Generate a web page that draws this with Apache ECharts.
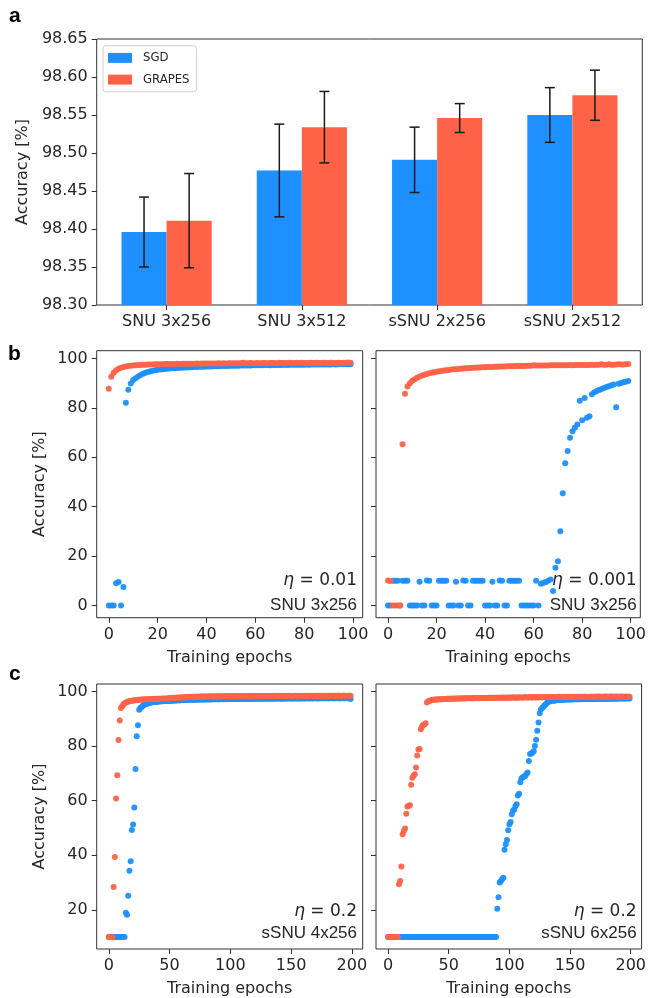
<!DOCTYPE html>
<html>
<head>
<meta charset="utf-8">
<script src="https://cdn.jsdelivr.net/npm/echarts@6/dist/echarts.min.js"></script>
<style>
  html, body { margin: 0; padding: 0; background: #fff; }
  #chart { width: 649px; height: 998px; }
</style>
</head>
<body>
<div id="chart"></div>
<script>
// ---------- panel a: final test accuracy (mean ± std) ----------
const categories = ['SNU 3x256', 'SNU 3x512', 'sSNU 2x256', 'sSNU 2x512'];
const sgdMean    = [98.396, 98.477, 98.491, 98.550];
const sgdStd     = [0.046, 0.061, 0.043, 0.036];
const grapesMean = [98.411, 98.534, 98.546, 98.576];
const grapesStd  = [0.062, 0.047, 0.019, 0.033];
const barTicks   = [98.30, 98.35, 98.40, 98.45, 98.50, 98.55, 98.60, 98.65];

// ---------- panels b, c: tick values ----------
const epochTicks100 = [0, 20, 40, 60, 80, 100];
const epochTicks200 = [0, 50, 100, 150, 200];
const accTicksB = [0, 20, 40, 60, 80, 100];
const accTicksC = [20, 40, 60, 80, 100];

// ---------- panel b, left: SNU 3x256, eta = 0.01 (epochs 0..99) ----------
const bLeftSgd = [
  0, 0, 0, 9.0, 9.5, 0, 7.5, 82.0, 87.3, 89.8,
  91.2, 92.0, 92.7, 93.3, 93.8, 94.2, 94.5, 94.8, 95.0, 95.2,
  95.4, 95.5, 95.6, 95.7, 95.8, 95.9, 96.0, 96.0, 96.1, 96.2,
  96.2, 96.3, 96.3, 96.4, 96.4, 96.5, 96.5, 96.6, 96.6, 96.6,
  96.7, 96.7, 96.7, 96.8, 96.8, 96.8, 96.9, 96.9, 96.9, 96.9,
  97.0, 97.0, 97.0, 97.0, 97.1, 97.1, 97.1, 97.1, 97.1, 97.2,
  97.2, 97.2, 97.2, 97.2, 97.3, 97.3, 97.2, 97.3, 97.3, 97.3,
  97.3, 97.3, 97.4, 97.3, 97.4, 97.4, 97.4, 97.4, 97.4, 97.4,
  97.4, 97.5, 97.4, 97.5, 97.5, 97.5, 97.5, 97.5, 97.5, 97.5,
  97.5, 97.5, 97.6, 97.5, 97.6, 97.6, 97.6, 97.6, 97.6, 97.6
];
const bLeftGrapes = [
  87.7, 92.6, 94.2, 95.2, 95.8, 96.2, 96.5, 96.7, 96.9, 97.0,
  97.1, 97.2, 97.3, 97.3, 97.4, 97.4, 97.5, 97.5, 97.5, 97.6,
  97.6, 97.6, 97.6, 97.7, 97.7, 97.7, 97.7, 97.7, 97.8, 97.7,
  97.8, 97.8, 97.8, 97.8, 97.8, 97.8, 97.9, 97.8, 97.9, 97.9,
  97.9, 97.9, 97.9, 97.9, 97.9, 98.0, 97.9, 98.0, 97.9, 98.0,
  98.0, 98.0, 98.0, 98.0, 98.0, 98.2, 98.0, 98.0, 98.1, 98.0,
  98.0, 98.1, 98.0, 98.1, 98.1, 98.0, 98.1, 98.1, 98.1, 98.0,
  98.2, 98.1, 98.1, 98.1, 98.2, 98.1, 98.1, 98.2, 98.1, 98.2,
  98.1, 98.1, 98.1, 98.2, 98.1, 98.2, 98.1, 98.1, 98.2, 98.1,
  98.1, 98.2, 98.1, 98.1, 98.2, 98.1, 98.2, 98.2, 98.3, 98.2
];

// ---------- panel b, right: SNU 3x256, eta = 0.001 (epochs 0..99) ----------
const bRightSgd = [
  0, 0, 10.0, 10.0, 10.0, 0, 10.0, 10.0, 10.0, 0,
  0, 0, 0, 9.6, 0, 0, 10.1, 10.0, 0, 0,
  0, 10.0, 10.0, 10.0, 10.0, 0, 0, 0, 9.6, 0,
  0, 10.1, 10.0, 0, 0, 10.0, 10.0, 10.0, 10.0, 10.0,
  0, 0, 0, 9.6, 0, 0, 10.1, 10.0, 0, 0,
  10.0, 10.0, 10.0, 10.0, 10.0, 0, 0, 0, 0, 0,
  0, 10.0, 0, 8.8, 9.2, 9.5, 10.0, 10.6, 5.9, 15.3,
  17.9, 30.1, 45.4, 57.6, 62.5, 67.9, 70.5, 71.9, 73.2, 82.9,
  75.0, 84.0, 76.0, 76.6, 85.5, 86.3, 86.8, 87.2, 87.6, 88.0,
  88.4, 88.7, 89.1, 89.4, 80.2, 89.7, 90.0, 90.3, 90.5, 90.8
];
const bRightGrapes = [
  10.1, 9.9, 0, 0, 0, 0, 65.3, 85.7, 88.6, 89.9,
  90.9, 91.6, 92.2, 92.7, 93.1, 93.4, 93.7, 94.0, 94.2, 94.4,
  94.6, 94.8, 94.9, 95.1, 95.2, 95.3, 95.5, 95.6, 95.6, 95.7,
  95.8, 95.9, 96.0, 96.0, 96.1, 96.2, 96.2, 96.3, 96.3, 96.4,
  96.4, 96.5, 96.5, 96.5, 96.6, 96.6, 96.7, 96.7, 96.7, 96.8,
  96.8, 96.8, 96.8, 96.9, 96.9, 96.9, 96.9, 97.0, 97.0, 97.0,
  97.2, 97.1, 97.1, 97.1, 97.1, 97.1, 97.1, 97.2, 97.2, 97.2,
  97.2, 97.2, 97.2, 97.2, 97.2, 97.3, 97.2, 97.3, 97.3, 97.3,
  97.3, 97.3, 97.3, 97.3, 97.4, 97.3, 97.4, 97.4, 97.6, 97.4,
  97.4, 97.6, 97.4, 97.4, 97.5, 97.6, 97.5, 97.5, 97.6, 97.7
];

// ---------- panel c, left: sSNU 4x256, eta = 0.2 (epochs 0..199) ----------
const cLeftSgd = [
  10.1, 10.1, 10.1, 10.1, 10.1, 10.1, 10.1, 10.1, 10.1, 10.1,
  10.1, 10.1, 10.1, 10.1, 19.0, 18.2, 25.2, 34.3, 37.8, 49.3,
  51.3, 57.5, 71.6, 83.6, 87.6, 93.3, 93.9, 94.3, 94.7, 95.0,
  95.2, 95.4, 95.6, 95.7, 95.8, 95.9, 96.0, 96.1, 96.1, 96.2,
  96.2, 96.3, 96.3, 96.4, 96.4, 96.4, 96.5, 96.5, 96.5, 96.6,
  96.6, 96.6, 96.6, 96.7, 96.7, 96.7, 96.7, 96.8, 96.7, 96.8,
  96.8, 96.8, 96.8, 96.8, 96.9, 96.8, 96.9, 96.9, 96.9, 96.9,
  96.9, 96.9, 97.0, 96.9, 97.0, 97.0, 97.0, 97.0, 97.0, 97.0,
  97.0, 97.1, 97.0, 97.1, 97.0, 97.1, 97.1, 97.1, 97.1, 97.1,
  97.1, 97.1, 97.1, 97.2, 97.1, 97.1, 97.2, 97.1, 97.2, 97.2,
  97.2, 97.2, 97.2, 97.2, 97.2, 97.3, 97.2, 97.2, 97.2, 97.3,
  97.2, 97.3, 97.2, 97.3, 97.3, 97.2, 97.3, 97.3, 97.3, 97.3,
  97.3, 97.3, 97.3, 97.3, 97.3, 97.4, 97.3, 97.3, 97.3, 97.4,
  97.3, 97.4, 97.3, 97.4, 97.3, 97.4, 97.4, 97.3, 97.4, 97.4,
  97.4, 97.4, 97.3, 97.4, 97.4, 97.4, 97.4, 97.4, 97.4, 97.5,
  97.4, 97.4, 97.4, 97.5, 97.4, 97.4, 97.5, 97.4, 97.4, 97.5,
  97.4, 97.5, 97.4, 97.5, 97.5, 97.4, 97.5, 97.5, 97.4, 97.5,
  97.5, 97.5, 97.4, 97.5, 97.5, 97.5, 97.5, 97.5, 97.5, 97.5,
  97.5, 97.5, 97.5, 97.6, 97.5, 97.5, 97.5, 97.5, 97.6, 97.5,
  97.5, 97.5, 97.6, 97.5, 97.5, 97.6, 97.5, 97.5, 97.6, 97.2
];
const cLeftGrapes = [
  10.1, 10.1, 10.1, 10.1, 28.4, 39.4, 60.8, 69.3, 82.2, 89.3,
  93.9, 94.6, 95.2, 95.6, 95.9, 96.1, 96.3, 96.4, 96.5, 96.6,
  96.7, 96.7, 96.8, 96.8, 96.9, 96.9, 96.9, 97.0, 97.0, 97.0,
  97.1, 97.1, 97.1, 97.1, 97.2, 97.2, 97.2, 97.2, 97.3, 97.2,
  97.3, 97.3, 97.3, 97.3, 97.3, 97.4, 97.3, 97.4, 97.4, 97.4,
  97.6, 97.6, 97.7, 97.6, 97.7, 97.7, 97.7, 97.8, 97.7, 97.8,
  97.8, 97.8, 97.8, 97.9, 97.8, 97.9, 97.9, 97.9, 97.9, 97.9,
  98.0, 97.9, 98.0, 98.0, 98.0, 98.0, 98.1, 98.0, 98.2, 98.0,
  98.1, 98.0, 98.1, 98.2, 98.1, 98.1, 98.2, 98.1, 98.1, 98.2,
  98.1, 98.2, 98.1, 98.2, 98.2, 98.1, 98.2, 98.2, 98.2, 98.1,
  98.2, 98.2, 98.3, 98.2, 98.2, 98.2, 98.2, 98.3, 98.2, 98.2,
  98.2, 98.3, 98.2, 98.3, 98.2, 98.2, 98.3, 98.2, 98.3, 98.3,
  98.2, 98.3, 98.3, 98.2, 98.3, 98.3, 98.3, 98.2, 98.3, 98.3,
  98.3, 98.3, 98.2, 98.3, 98.3, 98.3, 98.3, 98.4, 98.3, 98.3,
  98.3, 98.3, 98.3, 98.4, 98.3, 98.3, 98.3, 98.3, 98.4, 98.3,
  98.3, 98.1, 98.3, 98.4, 98.3, 98.1, 98.3, 98.3, 98.4, 98.3,
  98.3, 98.4, 98.3, 98.3, 98.4, 98.3, 98.4, 98.3, 98.3, 98.4,
  98.3, 98.4, 98.3, 98.4, 98.4, 98.3, 98.4, 98.3, 98.4, 98.4,
  98.3, 98.4, 98.4, 98.3, 98.4, 98.4, 98.3, 98.4, 98.4, 98.4,
  98.4, 98.3, 98.4, 98.4, 98.4, 98.3, 98.4, 98.4, 98.4, 98.4
];

// ---------- panel c, right: sSNU 6x256, eta = 0.2 (epochs 0..199) ----------
const cRightSgd = [
  10.1, 10.1, 10.1, 10.1, 10.1, 10.1, 10.1, 10.1, 10.1, 10.1,
  10.1, 10.1, 10.1, 10.1, 10.1, 10.1, 10.1, 10.1, 10.1, 10.1,
  10.1, 10.1, 10.1, 10.1, 10.1, 10.1, 10.1, 10.1, 10.1, 10.1,
  10.1, 10.1, 10.1, 10.1, 10.1, 10.1, 10.1, 10.1, 10.1, 10.1,
  10.1, 10.1, 10.1, 10.1, 10.1, 10.1, 10.1, 10.1, 10.1, 10.1,
  10.1, 10.1, 10.1, 10.1, 10.1, 10.1, 10.1, 10.1, 10.1, 10.1,
  10.1, 10.1, 10.1, 10.1, 10.1, 10.1, 10.1, 10.1, 10.1, 10.1,
  10.1, 10.1, 10.1, 10.1, 10.1, 10.1, 10.1, 10.1, 10.1, 10.1,
  10.1, 10.1, 10.1, 10.1, 10.1, 10.1, 10.1, 10.1, 10.1, 10.1,
  20.4, 24.6, 30.0, 30.6, 31.2, 31.8, 42.0, 44.0, 45.6, 49.2,
  51.4, 52.2, 55.0, 56.4, 56.8, 58.0, 58.7, 61.9, 62.5, 66.7,
  68.2, 68.5, 68.8, 69.0, 69.8, 70.3, 74.5, 77.1, 77.3, 77.5,
  78.1, 80.0, 82.3, 85.6, 88.6, 92.0, 93.4, 94.0, 94.3, 94.9,
  95.3, 95.8, 96.1, 96.3, 96.5, 96.6, 96.6, 96.7, 96.7, 96.8,
  96.8, 96.8, 96.9, 96.9, 96.9, 96.9, 97.0, 97.0, 97.0, 97.0,
  97.0, 97.1, 97.0, 97.1, 97.1, 97.1, 97.1, 97.1, 97.1, 97.2,
  97.1, 97.2, 97.2, 97.2, 97.2, 97.2, 97.2, 97.2, 97.3, 97.2,
  97.3, 97.2, 97.3, 97.3, 97.3, 97.3, 97.3, 97.3, 97.3, 97.3,
  97.3, 97.4, 97.3, 97.3, 97.4, 97.3, 97.4, 97.4, 97.3, 97.4,
  97.4, 97.4, 97.4, 97.4, 97.4, 97.4, 97.4, 97.5, 97.4, 97.4
];
const cRightGrapes = [
  10.1, 10.1, 10.1, 10.1, 10.1, 10.1, 10.1, 10.1, 10.1, 29.4,
  30.6, 35.9, 47.7, 48.9, 49.8, 55.2, 57.9, 58.1, 58.3, 65.8,
  68.4, 69.1, 69.7, 72.1, 76.5, 78.7, 78.9, 86.1, 87.1, 87.7,
  88.0, 88.3, 95.9, 96.4, 96.6, 96.7, 96.8, 96.9, 96.9, 97.0,
  97.0, 97.0, 97.1, 97.1, 97.1, 97.2, 97.2, 97.2, 97.2, 97.3,
  97.3, 97.3, 97.3, 97.3, 97.4, 97.3, 97.4, 97.4, 97.4, 97.4,
  97.4, 97.4, 97.5, 97.4, 97.5, 97.5, 97.5, 97.5, 97.5, 97.5,
  97.5, 97.6, 97.5, 97.6, 97.6, 97.5, 97.6, 97.6, 97.6, 97.6,
  97.6, 97.6, 97.6, 97.7, 97.6, 97.7, 97.6, 97.7, 97.7, 97.7,
  97.7, 97.7, 97.7, 97.7, 97.7, 97.8, 97.7, 97.7, 97.8, 97.7,
  97.8, 97.7, 97.8, 97.8, 97.8, 97.8, 97.7, 97.8, 97.8, 97.8,
  97.8, 97.8, 97.8, 97.9, 97.8, 97.8, 97.8, 97.9, 97.8, 97.8,
  97.9, 97.8, 97.8, 97.9, 97.8, 97.9, 97.9, 97.8, 97.9, 97.9,
  97.9, 97.9, 97.8, 97.9, 97.9, 97.9, 97.9, 97.9, 97.9, 97.9,
  97.9, 98.0, 97.9, 97.9, 97.9, 98.0, 97.9, 97.9, 98.0, 97.9,
  97.9, 98.0, 97.9, 98.0, 97.9, 98.0, 98.0, 97.9, 98.0, 98.0,
  97.9, 98.0, 98.0, 98.0, 97.9, 98.0, 98.0, 98.0, 98.0, 98.0,
  98.0, 98.0, 98.0, 98.1, 98.0, 98.0, 98.0, 98.0, 98.0, 98.1,
  98.0, 98.0, 98.0, 98.0, 98.1, 98.0, 98.0, 98.0, 98.1, 98.0,
  98.0, 98.0, 98.1, 98.0, 98.0, 98.0, 98.1, 98.0, 98.0, 98.0
];

// ---------- styling ----------
const BLUE = '#1E90FF';
const RED = '#FF6347';
const INK = '#262626';
const FRAME = '#333';
const TICK_FONT = 'DejaVu Sans';
const BAR_W = 1 / 3;
const DOT = 6;

const chart = echarts.init(document.getElementById('chart'), null, { renderer: 'canvas' });

const grids = [
  { left: 96.7, top: 39,    width: 545.6, height: 266 },  // a
  { left: 96.7, top: 350.7, width: 266,   height: 267 },  // b left
  { left: 376,  top: 350.7, width: 266.3, height: 267 },  // b right
  { left: 96.7, top: 684,   width: 266,   height: 267 },  // c left
  { left: 376,  top: 684,   width: 266.3, height: 267 }   // c right
].map(g => Object.assign({ show: true, borderColor: FRAME, borderWidth: 1, backgroundColor: 'transparent' }, g));

function axis(gridIndex, min, max, ticks, opts) {
  opts = opts || {};
  return {
    type: 'value', gridIndex, min, max,
    axisLine: { show: false, onZero: false },
    splitLine: { show: false },
    axisTick: { show: true, length: 5, customValues: ticks, lineStyle: { color: FRAME, width: 1 } },
    axisLabel: {
      show: opts.labels !== false, customValues: ticks, margin: opts.margin || 9,
      fontFamily: TICK_FONT, fontSize: 16, color: INK,
      formatter: opts.formatter || (v => String(v))
    },
    name: opts.name || '', nameLocation: 'middle', nameGap: opts.nameGap || 30,
    nameTextStyle: { fontFamily: TICK_FONT, fontSize: 16, color: INK }
  };
}

const xAxes = [
  axis(0, -0.5167, 3.5167, [0, 1, 2, 3], { formatter: v => categories[v], margin: 9 }),
  axis(1, -4.95, 103.95, epochTicks100, { name: 'Training epochs', nameGap: 32 }),
  axis(2, -4.95, 103.95, epochTicks100, { name: 'Training epochs', nameGap: 32 }),
  axis(3, -9.95, 208.95, epochTicks200, { name: 'Training epochs', nameGap: 32 }),
  axis(4, -9.95, 208.95, epochTicks200, { name: 'Training epochs', nameGap: 32 })
];
const yAxes = [
  axis(0, barTicks[0], barTicks[barTicks.length - 1], barTicks,
       { formatter: v => v.toFixed(2), name: 'Accuracy [%]', nameGap: 64 }),
  axis(1, -4.9, 103.1, accTicksB, { name: 'Accuracy [%]', nameGap: 49 }),
  axis(2, -4.9, 103.1, accTicksB, { labels: false }),
  axis(3, 5.7, 102.7, accTicksC, { name: 'Accuracy [%]', nameGap: 49 }),
  axis(4, 5.7, 102.7, accTicksC, { labels: false })
];

// bars of panel a, drawn through the axis scales
function barRender(offset) {
  return function (params, api) {
    const i = api.value(0), v = api.value(1);
    const tl = api.coord([i + offset - BAR_W / 2, v]);
    const br = api.coord([i + offset + BAR_W / 2, barTicks[0]]);
    return {
      type: 'rect',
      shape: { x: tl[0], y: tl[1], width: br[0] - tl[0], height: br[1] - tl[1] },
      style: { fill: api.visual('color') }
    };
  };
}
// standard-deviation whiskers with caps
function errRender(offset) {
  return function (params, api) {
    const i = api.value(0);
    const lo = api.coord([i + offset, api.value(1)]);
    const hi = api.coord([i + offset, api.value(2)]);
    const cap = 5;
    const st = { stroke: '#1a1a1a', lineWidth: 1.5 };
    return {
      type: 'group',
      children: [
        { type: 'line', shape: { x1: lo[0], y1: lo[1], x2: hi[0], y2: hi[1] }, style: st },
        { type: 'line', shape: { x1: lo[0] - cap, y1: lo[1], x2: lo[0] + cap, y2: lo[1] }, style: st },
        { type: 'line', shape: { x1: hi[0] - cap, y1: hi[1], x2: hi[0] + cap, y2: hi[1] }, style: st }
      ]
    };
  };
}

function dots(name, idx, values, color) {
  return {
    name, type: 'scatter', xAxisIndex: idx, yAxisIndex: idx,
    data: values.map((v, i) => [i, v]),
    symbol: 'circle', symbolSize: DOT,
    itemStyle: { color, opacity: 0.95 },
    silent: true, animation: false
  };
}

const series = [
  {
    name: 'SGD', type: 'custom', xAxisIndex: 0, yAxisIndex: 0,
    itemStyle: { color: BLUE },
    data: categories.map((c, i) => [i, sgdMean[i]]),
    encode: { x: 0, y: 1 }, renderItem: barRender(-BAR_W / 2), clip: true
  },
  {
    name: 'GRAPES', type: 'custom', xAxisIndex: 0, yAxisIndex: 0,
    itemStyle: { color: RED },
    data: categories.map((c, i) => [i, grapesMean[i]]),
    encode: { x: 0, y: 1 }, renderItem: barRender(BAR_W / 2), clip: true
  },
  {
    name: 'SGD std', type: 'custom', xAxisIndex: 0, yAxisIndex: 0, z: 5,
    data: categories.map((c, i) => [i, sgdMean[i] - sgdStd[i], sgdMean[i] + sgdStd[i]]),
    encode: { x: 0, y: [1, 2] }, renderItem: errRender(-BAR_W / 2)
  },
  {
    name: 'GRAPES std', type: 'custom', xAxisIndex: 0, yAxisIndex: 0, z: 5,
    data: categories.map((c, i) => [i, grapesMean[i] - grapesStd[i], grapesMean[i] + grapesStd[i]]),
    encode: { x: 0, y: [1, 2] }, renderItem: errRender(BAR_W / 2)
  },
  dots('SGD', 1, bLeftSgd, BLUE),
  dots('GRAPES', 1, bLeftGrapes, RED),
  dots('SGD', 2, bRightSgd, BLUE),
  dots('GRAPES', 2, bRightGrapes, RED),
  dots('SGD', 3, cLeftSgd, BLUE),
  dots('GRAPES', 3, cLeftGrapes, RED),
  dots('SGD', 4, cRightSgd, BLUE),
  dots('GRAPES', 4, cRightGrapes, RED)
];

function panelLetter(ch, x, y) {
  return {
    type: 'text', x, y,
    style: { text: ch, font: 'bold 21px "Liberation Sans", Arial, sans-serif', fill: '#000', verticalAlign: 'middle' }
  };
}
function note(right, yEta, ySnu, eta, arch) {
  return [
    {
      type: 'text', x: right, y: yEta,
      style: {
        text: '{e|η} = ' + eta, align: 'right', verticalAlign: 'middle',
        font: '17px "DejaVu Sans", sans-serif', fill: INK,
        rich: { e: { fontFamily: 'DejaVu Sans', fontStyle: 'italic', fontSize: 17, fill: INK } }
      }
    },
    {
      type: 'text', x: right, y: ySnu,
      style: { text: arch, align: 'right', verticalAlign: 'middle', font: '17px "Liberation Sans", Arial, sans-serif', fill: INK }
    }
  ];
}

chart.setOption({
  animation: false,
  grid: grids,
  xAxis: xAxes,
  yAxis: yAxes,
  legend: {
    left: 103, top: 45.7, orient: 'vertical',
    data: [{ name: 'SGD', icon: 'rect' }, { name: 'GRAPES', icon: 'rect' }],
    itemWidth: 24, itemHeight: 10, itemGap: 8.7,
    padding: [5.7, 7, 5.7, 5],
    borderColor: '#d0d0d0', borderWidth: 1, borderRadius: 3,
    backgroundColor: 'rgba(255,255,255,0.8)',
    selectedMode: false,
    textStyle: {
      fontFamily: '"DejaVu Sans Condensed", "Liberation Sans Narrow", "Liberation Sans", sans-serif',
      fontSize: 13, lineHeight: 10, color: INK, padding: [0, 0, 0, 6]
    }
  },
  series,
  graphic: [
    panelLetter('a', 9, 16),
    panelLetter('b', 8, 354),
    panelLetter('c', 9, 674),
    ...note(357, 581, 605, '0.01', 'SNU 3x256'),
    ...note(636.6, 581, 605, '0.001', 'SNU 3x256'),
    ...note(357, 912, 933, '0.2', 'sSNU 4x256'),
    ...note(636.6, 912, 933, '0.2', 'sSNU 6x256')
  ]
});
</script>
</body>
</html>
